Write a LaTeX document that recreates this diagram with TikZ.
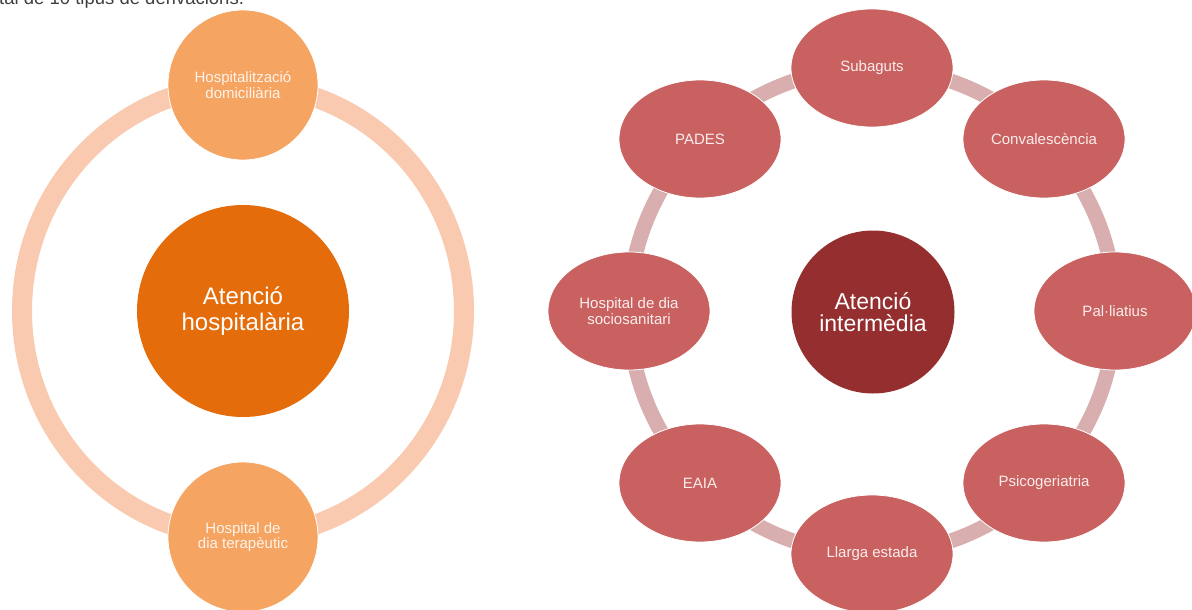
\documentclass[tikz,border=0pt]{standalone}
\usepackage{fontspec}
\setmainfont{Liberation Sans}
\usetikzlibrary{shapes.geometric}
\definecolor{ringL}{HTML}{F9CAB0}
\definecolor{nodeL}{HTML}{F5A461}
\definecolor{centL}{HTML}{E46C0A}
\definecolor{ringR}{HTML}{D8AEAE}
\definecolor{nodeR}{HTML}{C8615F}
\definecolor{centR}{HTML}{952F2F}
\definecolor{txtL}{HTML}{FFF3EA}
\definecolor{txtR}{HTML}{FBEDED}
\definecolor{captxt}{HTML}{404040}
\tikzset{
  leftnode/.style={circle, fill=nodeL, draw=white, line width=0.8pt, minimum size=150pt, inner sep=0pt,
    text=txtL, align=center, font=\fontsize{15}{15.5}\selectfont},
  leftcenter/.style={circle, fill=centL, minimum size=212pt, inner sep=0pt,
    text=white, align=center, font=\fontsize{24}{26.5}\selectfont},
  rightnode/.style={ellipse, fill=nodeR, draw=white, line width=0.8pt, minimum width=162pt, minimum height=118pt,
    inner sep=0pt, text=txtR, align=center, font=\fontsize{15}{15.5}\selectfont},
  rightcenter/.style={circle, fill=centR, minimum size=163pt, inner sep=0pt,
    text=white, align=center, font=\fontsize{23}{22.5}\selectfont},
  ringleft/.style={draw=ringL, line width=20pt},
  ringright/.style={draw=ringR, line width=15pt},
}
\begin{document}
\begin{tikzpicture}[x=1pt,y=-1pt]
\useasboundingbox (0,0) rectangle (1192,610);
\fill[white] (0,0) rectangle (1192,610);
% cut caption at the top
\node[anchor=base west, inner sep=0pt, text=captxt, font=\fontsize{18.5}{20}\selectfont] (cap) at (-1,4.5) {tal de 10 tipus de derivacions.};
% left diagram
\path[ringleft] (243,311) ellipse [x radius=221, y radius=226];
\node[leftcenter] (hosp) at (243,311) {Atenció\\hospitalària};
\node[leftnode] (hdom) at (243,85) {Hospitalització\\domiciliària};
\node[leftnode] (hdt) at (243,537) {Hospital de\\dia terapèutic};
% right diagram
\path[ringright] (872,311) circle [radius=243];
\node[rightcenter] (inter) at (873,312) {Atenció\\intermèdia};
\node[rightnode] (sub) at (872,68) {Subaguts};
\node[rightnode] (conv) at (1044,139) {Convalescència};
\node[rightnode] (pal) at (1115,311) {Pal·liatius};
\node[rightnode] (psico) at (1044,483) {Psicogeriatria};
\node[rightnode] (llarga) at (872,554) {Llarga estada};
\node[rightnode] (eaia) at (700,483) {EAIA};
\node[rightnode] (hdds) at (629,311) {Hospital de dia\\sociosanitari};
\node[rightnode] (pades) at (700,139) {PADES};
\end{tikzpicture}
\end{document}
